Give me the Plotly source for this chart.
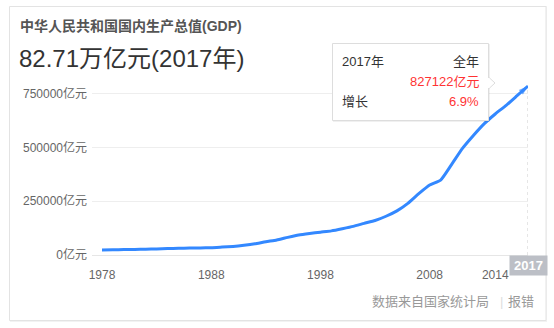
import plotly.graph_objects as go

years = list(range(1978, 2018))
gdp = [23000, 24000, 25000, 26000, 27000, 28000, 30000, 31000, 32000, 33000,
       34000, 37000, 40000, 45000, 52000, 62000, 70000, 82000, 93000, 100000,
       106000, 112000, 122000, 133000, 147000, 160000, 180000, 205000, 240000, 285000,
       325000, 348000, 420000, 495000, 555000, 610000, 655000, 695000, 740000, 785000]
x_ticks = [1978, 1988, 1998, 2008, 2014]
y_ticks = [0, 250000, 500000, 750000]
title_text = "中华人民共和国国内生产总值(GDP)"
headline_text = "82.71万亿元(2017年)"
tip_year = "2017年"
tip_period = "全年"
tip_value = "827122亿元"
tip_growth_label = "增长"
tip_growth = "6.9%"
hover_label = "2017"
source_text = "数据来自国家统计局"
report_text = "报错"

W, H = 554, 328
L, R, T, B = 92, 26, 74, 73
PW, PH = W - L - R, H - T - B
FONT = "Liberation Sans, Arial, Noto Sans CJK SC, sans-serif"


def px(x):
    return (x - L) / PW


def py(y):
    return (H - B - y) / PH


fig = go.Figure()
fig.add_trace(go.Scatter(
    x=years, y=gdp, mode="lines",
    line=dict(color="#3388ff", width=3, shape="spline", smoothing=0.5),
    hoverinfo="skip", showlegend=False, cliponaxis=False,
))
fig.add_trace(go.Scatter(
    x=years[-2:], y=gdp[-2:], mode="markers",
    marker=dict(symbol="arrow", size=[0, 10], color="#3388ff", angleref="previous",
                line=dict(width=0)),
    hoverinfo="skip", showlegend=False, cliponaxis=False,
))

shapes = []
# card shadow + border
shapes.append(dict(type="rect", xref="paper", yref="paper",
                   x0=px(10), x1=px(547), y0=py(6), y1=py(322),
                   line=dict(width=0), fillcolor="rgba(0,0,0,0.05)", layer="below"))
shapes.append(dict(type="rect", xref="paper", yref="paper",
                   x0=px(9.5), x1=px(546), y0=py(6.5), y1=py(320.5),
                   line=dict(color="#e3e3e3", width=1), fillcolor="white", layer="below"))
# hover dotted line
shapes.append(dict(type="line", xref="x", yref="y", x0=2017, x1=2017, y0=0, y1=gdp[-1],
                   line=dict(color="#cccccc", width=1, dash="dot"), layer="below"))
# tooltip shadow + box
shapes.append(dict(type="rect", xref="paper", yref="paper",
                   x0=px(333), x1=px(490), y0=py(44), y1=py(122),
                   line=dict(width=0), fillcolor="rgba(0,0,0,0.06)"))
shapes.append(dict(type="rect", xref="paper", yref="paper",
                   x0=px(332.5), x1=px(488.5), y0=py(43.5), y1=py(120.5),
                   line=dict(color="#dddddd", width=1), fillcolor="white"))
shapes.append(dict(type="path", xref="paper", yref="paper",
                   path=f"M {px(488.5)} {py(77)} L {px(495)} {py(83)} L {px(488.5)} {py(89)} Z",
                   line=dict(color="#dddddd", width=1), fillcolor="white"))
shapes.append(dict(type="line", xref="paper", yref="paper",
                   x0=px(488.5), x1=px(488.5), y0=py(78), y1=py(88),
                   line=dict(color="white", width=2)))

ann = []
ann.append(dict(text=title_text, x=px(18), y=py(26), xref="paper", yref="paper",
                xanchor="left", yanchor="middle", showarrow=False,
                font=dict(size=14, color="#555555", family=FONT, weight="bold")))
ann.append(dict(text=headline_text, x=px(17), y=py(58), xref="paper", yref="paper",
                xanchor="left", yanchor="middle", showarrow=False,
                font=dict(size=24, color="#333333", family=FONT)))
ann.append(dict(text=tip_year, x=px(340), y=py(61), xref="paper", yref="paper",
                xanchor="left", yanchor="middle", showarrow=False,
                font=dict(size=13, color="#333333", family=FONT)))
ann.append(dict(text=tip_period, x=px(481), y=py(61), xref="paper", yref="paper",
                xanchor="right", yanchor="middle", showarrow=False,
                font=dict(size=13, color="#333333", family=FONT)))
ann.append(dict(text=tip_value, x=px(481), y=py(81.5), xref="paper", yref="paper",
                xanchor="right", yanchor="middle", showarrow=False,
                font=dict(size=13, color="#ff3333", family=FONT)))
ann.append(dict(text=tip_growth_label, x=px(340), y=py(101.5), xref="paper", yref="paper",
                xanchor="left", yanchor="middle", showarrow=False,
                font=dict(size=13, color="#333333", family=FONT)))
ann.append(dict(text=tip_growth, x=px(481), y=py(101.5), xref="paper", yref="paper",
                xanchor="right", yanchor="middle", showarrow=False,
                font=dict(size=13, color="#ff3333", family=FONT)))
ann.append(dict(text="<b>" + hover_label + "</b>", x=2017, y=py(265.5), xref="x", yref="paper",
                xanchor="center", yanchor="middle", showarrow=False,
                bgcolor="#bcbfc6", width=37, height=19, borderpad=0,
                font=dict(size=13, color="white", family=FONT)))
ann.append(dict(text=source_text, x=px(491), y=py(301), xref="paper", yref="paper",
                xanchor="right", yanchor="middle", showarrow=False,
                font=dict(size=13, color="#999999", family=FONT)))
ann.append(dict(text="|", x=px(501), y=py(301), xref="paper", yref="paper",
                xanchor="center", yanchor="middle", showarrow=False,
                font=dict(size=13, color="#dddddd", family=FONT)))
ann.append(dict(text=report_text, x=px(536), y=py(301), xref="paper", yref="paper",
                xanchor="right", yanchor="middle", showarrow=False,
                font=dict(size=13, color="#999999", family=FONT)))

fig.update_layout(
    width=W, height=H,
    margin=dict(l=L, r=R, t=T, b=B, pad=0),
    paper_bgcolor="white", plot_bgcolor="rgba(0,0,0,0)",
    shapes=shapes, annotations=ann,
    font=dict(family=FONT),
    xaxis=dict(range=[1978 - 10 / 10.92, 2017], tickvals=x_ticks, ticktext=[str(v) for v in x_ticks],
               showgrid=False, zeroline=False, showline=True, linecolor="#e6e6e6", linewidth=1,
               ticks="", ticklabelstandoff=9, tickfont=dict(size=12, color="#666666")),
    yaxis=dict(range=[0, 181 * 4645], tickvals=y_ticks, ticktext=[f"{v}亿元" for v in y_ticks],
               showgrid=True, gridcolor="#eeeeee", gridwidth=1, zeroline=False, showline=False,
               ticks="", ticklabelstandoff=4, tickfont=dict(size=12, color="#666666")),
)

fig.write_html("out.html")
